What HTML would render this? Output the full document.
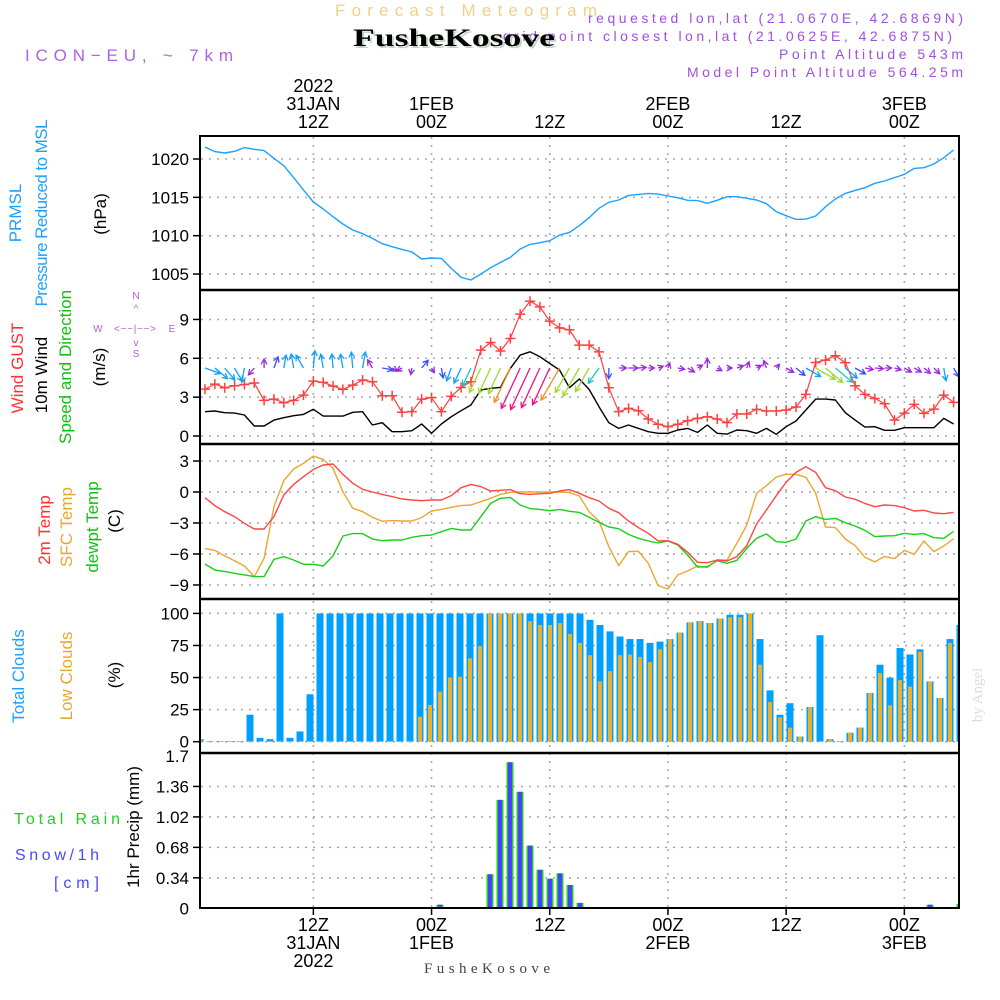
<!DOCTYPE html>
<html><head><meta charset="utf-8"><style>
html,body{margin:0;padding:0;background:#fff;}
svg{display:block;font-family:"Liberation Sans",sans-serif;}
</style></head><body>
<svg id="chart" width="1000" height="1000" viewBox="0 0 1000 1000" xmlns="http://www.w3.org/2000/svg">
<rect x="0" y="0" width="1000" height="1000" fill="#fff"/>
<text x="335" y="16" font-size="17" fill="#f3cf8a" textLength="262" lengthAdjust="spacing">Forecast Meteogram</text>
<text x="503" y="41" font-size="14" fill="#a050e0" textLength="449" lengthAdjust="spacing">grid point closest lon,lat (21.0625E, 42.6875N)</text>
<text x="355" y="48" font-family="Liberation Serif, serif" font-weight="bold" font-size="25" fill="#c6d6c6" textLength="202" lengthAdjust="spacingAndGlyphs">FusheKosove</text>
<text x="353" y="46" font-family="Liberation Serif, serif" font-weight="bold" font-size="25" fill="#000" textLength="202" lengthAdjust="spacingAndGlyphs">FusheKosove</text>
<text x="588" y="23" font-size="14" fill="#a050e0" textLength="375" lengthAdjust="spacing">requested lon,lat (21.0670E, 42.6869N)</text>
<text x="779" y="59" font-size="14" fill="#a050e0" textLength="184" lengthAdjust="spacing">Point Altitude 543m</text>
<text x="687" y="77" font-size="14" fill="#a050e0" textLength="276" lengthAdjust="spacing">Model Point Altitude 564.25m</text>
<text x="25" y="61" font-size="17" fill="#b060e8" textLength="208" lengthAdjust="spacing">ICON−EU, ~ 7km</text>

<g font-size="17" text-anchor="middle">
<text transform="translate(21,213) rotate(-90)" fill="#1ea0ff">PRMSL</text>
<text transform="translate(47,213) rotate(-90)" fill="#1ea0ff" textLength="187" lengthAdjust="spacing">Pressure Reduced to MSL</text>
<text transform="translate(106,214) rotate(-90)" fill="#000">(hPa)</text>
<text transform="translate(23,368) rotate(-90)" fill="#ff3030">Wind GUST</text>
<text transform="translate(47,375) rotate(-90)" fill="#000">10m Wind</text>
<text transform="translate(71,367) rotate(-90)" fill="#10c010">Speed and Direction</text>
<text transform="translate(105,367) rotate(-90)" fill="#000">(m/s)</text>
<text transform="translate(50,530) rotate(-90)" fill="#ff3030">2m Temp</text>
<text transform="translate(72,527) rotate(-90)" fill="#e8a830">SFC Temp</text>
<text transform="translate(98,527) rotate(-90)" fill="#10c010">dewpt Temp</text>
<text transform="translate(120,521) rotate(-90)" fill="#000">(C)</text>
<text transform="translate(24,676) rotate(-90)" fill="#1ea0ff">Total Clouds</text>
<text transform="translate(72,676) rotate(-90)" fill="#e8a830">Low Clouds</text>
<text transform="translate(120,675) rotate(-90)" fill="#000">(%)</text>
<text transform="translate(139,827) rotate(-90)" fill="#000">1hr Precip (mm)</text>
</g>
<text x="14" y="824" font-size="16" fill="#20d020" textLength="106" lengthAdjust="spacing">Total   Rain</text>
<text x="15" y="860" font-size="16" fill="#4848ff" textLength="84" lengthAdjust="spacing">Snow/1h</text>
<text x="54" y="888" font-size="16" fill="#4848ff" textLength="45" lengthAdjust="spacing">[cm]</text>
<g fill="#b060e0" font-size="10" text-anchor="middle">
<text x="136" y="299">N</text>
<text x="136" y="312">^</text>
<text x="98" y="332">W</text>
<text x="135" y="332" textLength="42" lengthAdjust="spacing">&lt;−−|−−&gt;</text>
<text x="172" y="332">E</text>
<text x="136" y="346">v</text>
<text x="136" y="357">S</text>
</g>
<text transform="translate(982,695) rotate(-90)" font-family="Liberation Serif, serif" font-size="15" fill="#dcdcdc" text-anchor="middle">by Angel</text>
<text x="487" y="973" font-family="Liberation Serif, serif" font-size="15" fill="#444" text-anchor="middle" textLength="126" lengthAdjust="spacing">FusheKosove</text>
<defs><clipPath id="plotclip"><rect x="201" y="137" width="758" height="771"/></clipPath></defs>
<g id="grid"></g>
<g id="plots" clip-path="url(#plotclip)"></g>
<g id="axes"></g>
</svg>
<script>
// ---- data (hourly, t = 1..77) ----
const pressure = [1021.57,1020.96,1020.78,1021.0,1021.48,1021.26,1021.09,1020.09,1019.13,1017.57,1015.96,1014.39,1013.48,1012.48,1011.52,1010.74,1010.26,1009.65,1008.96,1008.57,1008.22,1007.87,1006.96,1007.09,1007.04,1005.74,1004.57,1004.22,1005.0,1005.83,1006.52,1007.17,1008.26,1008.87,1009.09,1009.35,1010.09,1010.43,1011.3,1012.35,
1013.57,1014.35,1014.65,1015.26,1015.39,1015.52,1015.43,1015.17,1014.96,1014.61,1014.57,1014.22,1014.61,1015.09,1015.09,1014.87,1014.65,1014.17,1013.13,1012.61,1012.13,1012.17,1012.57,1013.78,1014.78,1015.52,1015.91,1016.26,1016.83,1017.13,1017.57,1018.0,1018.78,1018.87,1019.35,1020.17,1021.17];
const gust = [3.62,4.01,3.73,3.88,3.98,4.09,2.75,2.85,2.57,2.75,3.16,4.24,4.14,3.86,3.6,3.93,4.32,4.19,3.11,3.11,1.83,1.88,2.85,2.96,1.88,3.06,3.75,4.19,6.63,7.22,6.56,7.53,9.41,10.41,9.97,8.87,8.35,8.2,7.02,7.02,
6.5,3.73,1.88,2.13,1.95,1.31,0.9,0.72,0.9,1.18,1.36,1.49,1.31,1.03,1.7,1.7,2.06,1.93,1.93,2.01,2.24,3.21,5.68,5.86,6.2,5.66,3.88,3.21,2.9,2.49,1.23,1.77,2.44,1.75,2.08,3.16,2.6];
const wind = [1.88,1.93,1.8,1.77,1.62,0.77,0.77,1.23,1.41,1.57,1.67,2.06,1.54,1.54,1.54,1.83,1.88,0.85,1.03,0.33,0.33,0.41,0.93,0.21,0.93,1.49,1.95,2.39,3.55,3.68,3.75,5.22,6.25,6.5,6.12,5.6,5.09,3.73,4.4,3.6,
2.26,1.03,0.59,0.85,0.59,0.33,0.21,0.21,0.46,0.59,0.28,0.85,0.21,0.15,0.46,0.41,0.21,0.59,0.13,0.72,1.16,2.01,2.85,2.85,2.78,1.8,1.23,0.69,0.72,0.44,0.44,0.64,0.64,0.64,0.64,1.36,0.93];
const windDir = [290,310,320,330,10,40,180,200,190,170,150,185,170,175,170,175,190,150,280,300,60,10,220,330,350,20,25,25,25,25,25,25,25,25,25,25,30,30,30,30,
35,0,270,270,265,270,250,200,280,300,240,180,300,270,250,200,240,160,220,300,310,300,300,310,310,310,300,280,275,270,285,300,300,310,315,350,330];
const temp2m = [-0.55,-1.32,-1.9,-2.39,-3.03,-3.58,-3.58,-2.39,-0.29,0.74,1.48,2.19,2.61,2.71,1.71,0.84,0.26,0,-0.23,-0.45,-0.68,-0.77,-0.84,-0.77,-0.77,-0.35,0.42,0.74,0.52,0.1,0.16,0.23,-0.16,-0.23,-0.16,-0.13,0.1,0.23,-0.13,-0.55,
-0.87,-1.58,-2.0,-2.81,-3.45,-4.0,-4.74,-4.71,-5.06,-5.84,-6.81,-6.84,-6.58,-6.68,-6.26,-5.19,-3.1,-1.74,-0.35,0.94,1.9,2.45,1.9,0.42,0.13,-0.48,-0.71,-1.1,-1.42,-1.26,-1.32,-1.52,-1.84,-1.77,-2.03,-2.1,-1.97];
const tempSfc = [-5.48,-5.65,-6.19,-6.65,-7.16,-8.19,-6.42,-1.42,1.1,2.23,2.77,3.48,3.16,2.29,0.03,-1.58,-1.9,-2.45,-2.84,-2.77,-2.81,-2.81,-2.48,-1.84,-1.68,-1.48,-1.32,-1.26,-0.94,-0.61,-0.23,-0.03,0,0,0,0,0,-0.06,-0.39,-1.9,
-2.81,-5.29,-7.13,-5.77,-5.74,-6.9,-9.06,-9.39,-8.03,-7.65,-7.16,-7.32,-6.58,-6.58,-4.97,-3.19,-0.13,0.61,1.45,1.71,1.71,1.42,-0.13,-3.39,-3.45,-4.55,-5.19,-6.32,-6.77,-6.23,-6.45,-5.65,-6.03,-4.74,-5.77,-5.23,-4.52];
const dewpt = [-6.97,-7.55,-7.71,-7.87,-8.03,-8.19,-8.19,-6.52,-6.26,-6.58,-7.0,-7.0,-7.16,-6.19,-4.26,-4.03,-4.03,-4.55,-4.71,-4.65,-4.65,-4.39,-4.23,-4.16,-3.84,-3.52,-3.68,-3.68,-2.39,-1.1,-0.61,-0.52,-1.26,-1.61,-1.68,-1.81,-1.68,-1.87,-1.97,-2.45,
-2.94,-3.39,-3.55,-4.1,-4.48,-4.74,-4.94,-4.74,-5.13,-6.1,-7.26,-7.23,-6.65,-6.9,-6.61,-5.45,-4.48,-4.06,-4.81,-4.87,-4.55,-2.81,-2.39,-2.65,-2.55,-2.97,-3.29,-3.71,-4.32,-4.26,-4.23,-4.0,-4.1,-4.03,-4.42,-4.48,-3.81];
const totalClouds = [2,0.5,0.5,0.5,0.5,21,3,2,100,3,8,37,100,100,100,100,100,100,100,100,100,100,100,100,100,100,100,100,100,100,100,100,100,100,100,100,100,100,100,95,
91,86,82,80,80,77,78,80,85,93,94,92.5,96,99,99,100,80,40,21,30,4,27,83,2,0.5,7,11,38,60,50,73,68,72,47,34,80,91];
const lowClouds = [2,0.5,0.5,0.5,0.5,0.5,0.5,0.5,0.5,0.5,0.5,0.5,0.5,0.5,0.5,0.5,0.5,0.5,0.5,0.5,0.5,0.5,19.5,28.6,39,50,50.6,65,74.5,100,100,100,100,94,91,91,92.5,84,77,67.5,
47,55,67.5,68,66,62,72,80,85,93,94,92.5,96,97,97,100,60,31,19,11,4,27,0.5,2,0.5,7,11,38,53.5,28.5,48,43,70,47,34,77,83];
const precip = [0,0,0,0,0,0,0,0,0,0,0,0,0,0,0,0,0,0,0,0,0,0,0,0,0.04,0.005,0.005,0,0,0.38,1.21,1.63,1.30,0.70,0.43,0.33,0.39,0.26,0.06,0,
0,0,0,0,0,0,0,0,0,0,0,0,0,0,0,0,0,0,0,0,0,0,0,0,0,0,0,0,0,0.01,0,0,0,0.04,0,0,0.05];
const pTicks = [1020,1015,1010,1005];
const wTicks = [9,6,3,0];
const tTicks = [3,0,-3,-6,-9];
const cTicks = [100,75,50,25,0];
const rTicks = [1.7,1.36,1.02,0.68,0.34,0];
const rTickLabels = ["1.7","1.36","1.02","0.68","0.34","0"];
const timeTicks = [12,24,36,48,60,72];
const topLabels = [["2022","31JAN","12Z"],["","1FEB","00Z"],["","","12Z"],["","2FEB","00Z"],["","","12Z"],["","3FEB","00Z"]];
const bottomLabels = [["12Z","31JAN","2022"],["00Z","1FEB",""],["12Z","",""],["00Z","2FEB",""],["12Z","",""],["00Z","3FEB",""]];

// ---- axis functions ----
const xT = t => 205 + (t - 1) * 9.85;
const xB = i => 200 + i * 10;
const yP = v => 159 + (1020 - v) * 7.67;
const yW = v => 436 - v * 12.95;
const yT = v => 492 - v * 10.33;
const yC = v => 741.7 - v * 1.283;
const yR = v => 908.3 - v * 89.6;

const NS = 'http://www.w3.org/2000/svg';
function mk(parent, tag, attrs) { const e = document.createElementNS(NS, tag); for (const k in attrs) e.setAttribute(k, attrs[k]); parent.appendChild(e); return e; }
const grid = document.getElementById('grid');
const plots = document.getElementById('plots');
const axes = document.getElementById('axes');

function hgrid(vals, f, name) {
  vals.forEach(v => {
    const y = f(v);
    const g = mk(grid, 'line', {x1:201, x2:959, y1:y, y2:y, stroke:'#a8a8a8', 'stroke-width':1.5, 'stroke-dasharray':'2,6'});
    
    
    const tk = mk(axes, 'line', {x1:193, x2:200, y1:y, y2:y, stroke:'#000', 'stroke-width':1.5});
    
    
  });
}
hgrid(pTicks, yP, 'pressure');
hgrid(wTicks, yW, 'wind');
hgrid(tTicks, yT, 'temp');
hgrid(cTicks, yC, 'cloud');
hgrid(rTicks.slice(1,5), yR, 'precip');
timeTicks.forEach(t => {
  const x = xT(t);
  const v = mk(grid, 'line', {x1:x, x2:x, y1:137, y2:908, stroke:'#a8a8a8', 'stroke-width':1.5, 'stroke-dasharray':'2,6'});
  
  
  const tk = mk(axes, 'line', {x1:x, x2:x, y1:908, y2:915, stroke:'#000', 'stroke-width':1.5});
  
  
});

function ylabels(vals, labels, f, name) {
  vals.forEach((v, i) => {
    const t = mk(axes, 'text', {x:189, y:f(v) + 6, 'text-anchor':'end', 'font-size':17, fill:'#000'});
    t.textContent = labels[i];
    
    
  });
}
ylabels(pTicks, pTicks.map(String), yP, 'pressure');
ylabels(wTicks, wTicks.map(String), yW, 'wind');
ylabels(tTicks, tTicks.map(v => String(v).replace('-', '−')), yT, 'temp');
ylabels(cTicks, cTicks.map(String), yC, 'cloud');
ylabels(rTicks, rTickLabels, yR, 'precip');

timeTicks.forEach((t, k) => {
  topLabels[k].forEach((s, r) => {
    if (!s) return;
    const e = mk(axes, 'text', {x:xT(t), y:92 + r * 18, 'text-anchor':'middle', 'font-size':18, fill:'#000'});
    e.textContent = s;
    
    
  });
  bottomLabels[k].forEach((s, r) => {
    if (!s) return;
    const e = mk(axes, 'text', {x:xT(t), y:931 + r * 18, 'text-anchor':'middle', 'font-size':18, fill:'#000'});
    e.textContent = s;
    
    
  });
});

function series(arr, f, color, name, w) {
  const pts = arr.map((v, i) => xT(i + 1).toFixed(1) + ',' + f(v).toFixed(1)).join(' ');
  const p = mk(plots, 'polyline', {points:pts, fill:'none', stroke:color, 'stroke-width':w || 1.4, 'stroke-linejoin':'round'});
  
  
  return p;
}
series(pressure, yP, '#1ea0ff', 'pressure-line');
series(wind, yW, '#000', 'wind-speed-line');
series(gust, yW, '#ff4040', 'wind-gust-line', 1.2);
gust.forEach((v, i) => {
  const x = xT(i + 1), y = yW(v);
  const m = mk(plots, 'path', {d:`M${x-5},${y}H${x+5}M${x},${y-5}V${y+5}`, stroke:'#ff4040', 'stroke-width':1.5});
  
  
});
series(tempSfc, yT, '#e8a830', 'sfc-temp-line');
series(dewpt, yT, '#18d018', 'dewpt-line');
series(temp2m, yT, '#ff4545', 'temp-2m-line');

function windColor(s) {
  if (s < 0.9) return '#9a28e0';
  if (s < 1.3) return '#3a4cff';
  if (s < 2.2) return '#11a0ff';
  if (s < 2.8) return '#18c8c8';
  if (s < 4.5) return '#a0d830';
  if (s < 5.6) return '#f09020';
  return '#f0108a';
}
windDir.forEach((d, i) => {
  const s = wind[i];
  const L = Math.min(46, 4 + 6.5 * s);
  const go = (d + 180) * Math.PI / 180;
  const x0 = xT(i + 1), y0 = 368;
  const x1 = x0 + Math.sin(go) * L, y1 = y0 - Math.cos(go) * L;
  const a = Math.atan2(y1 - y0, x1 - x0);
  const h = 6;
  const hx1 = x1 - h * Math.cos(a - 0.5), hy1 = y1 - h * Math.sin(a - 0.5);
  const hx2 = x1 - h * Math.cos(a + 0.5), hy2 = y1 - h * Math.sin(a + 0.5);
  const ar = mk(plots, 'path', {d:`M${x0},${y0}L${x1},${y1}M${hx1},${hy1}L${x1},${y1}L${hx2},${hy2}`, stroke:windColor(s), 'stroke-width':1.3, fill:'none'});
  
  
});

totalClouds.forEach((v, i) => {
  const x = xB(i);
  const b = mk(plots, 'rect', {x:x - 3.5, y:yC(v), width:7, height:yC(0) - yC(v), fill:'#00a0ff'});
  
  
});
lowClouds.forEach((v, i) => {
  const x = xB(i);
  const b = mk(plots, 'rect', {x:x - 2, y:yC(v), width:4, height:yC(0) - yC(v), fill:'#e8b030'});
  
  
});

precip.forEach((v, i) => {
  if (v <= 0) return;
  const x = xB(i);
  const g = mk(plots, 'rect', {x:x - 3.5, y:yR(v), width:7, height:Math.max(1, yR(0) - yR(v)), fill:'#22cc22'});
  
  
  const b = mk(plots, 'rect', {x:x - 2, y:yR(v), width:4, height:Math.max(1, yR(0) - yR(v)), fill:'#4444ff'});
  
  
});

const fr = mk(axes, 'rect', {x:200, y:136, width:759, height:772, fill:'none', stroke:'#000', 'stroke-width':2});


[290, 444, 599, 753].forEach(y => {
  const l = mk(axes, 'line', {x1:200, x2:959, y1:y, y2:y, stroke:'#000', 'stroke-width':2.5});
  
  
});
</script>
</body></html>
